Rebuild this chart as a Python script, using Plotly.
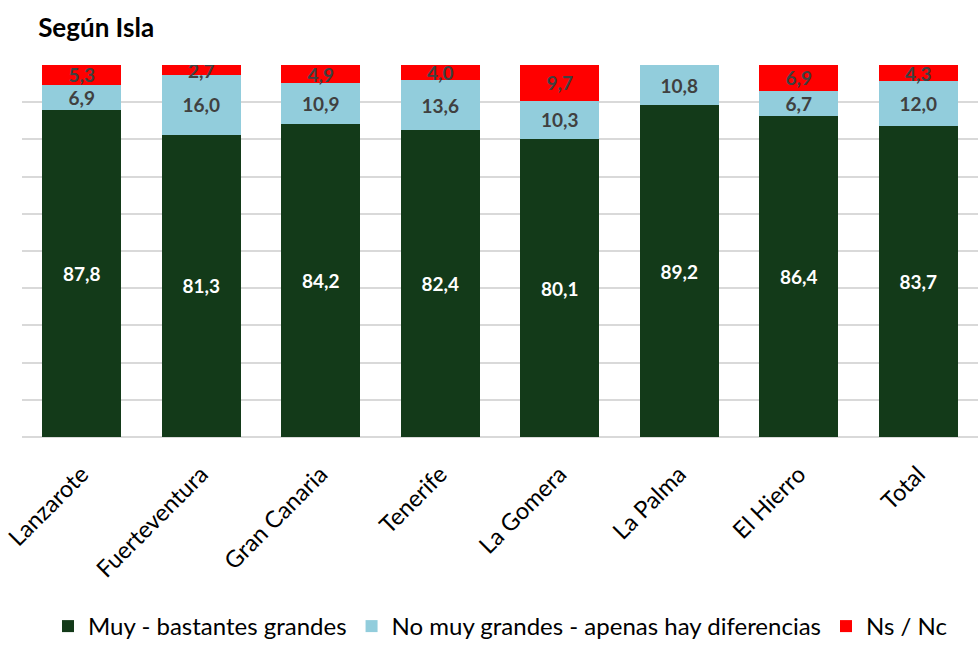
import plotly.graph_objects as go

categories = ["Lanzarote", "Fuerteventura", "Gran Canaria", "Tenerife", "La Gomera", "La Palma", "El Hierro", "Total"]
muy_bastantes = [87.8, 81.3, 84.2, 82.4, 80.1, 89.2, 86.4, 83.7]
no_muy = [6.9, 16.0, 10.9, 13.6, 10.3, 10.8, 6.7, 12.0]
ns_nc = [5.3, 2.7, 4.9, 4.0, 9.7, None, 6.9, 4.3]

series = [
    ("Muy - bastantes grandes", muy_bastantes, "#133A19", "white"),
    ("No muy grandes - apenas hay diferencias", no_muy, "#92CDDC", "#404040"),
    ("Ns / Nc", ns_nc, "#FF0000", "#404040"),
]

fig = go.Figure()
for name, vals, color, tcolor in series:
    fig.add_trace(go.Bar(
        x=categories, y=vals, name=name,
        marker=dict(color=color, line=dict(width=0)),
        texttemplate="<b>%{y:.1f}</b>", textposition="inside",
        insidetextanchor="middle", constraintext="none",
        textfont=dict(family="Lato", size=19, color=tcolor),
        textangle=0,
    ))

fig.update_layout(
    barmode="stack",
    bargap=0.34,
    separators=",.",
    width=978, height=649,
    margin=dict(l=22, r=0, t=65, b=203),
    paper_bgcolor="white", plot_bgcolor="white",
    font=dict(family="Lato", color="#000000"),
    title=dict(text="<b>Según Isla</b>", x=0.039, xanchor="left", y=0.957, yanchor="middle",
               font=dict(family="Lato", size=26, color="#000000")),
    uniformtext=dict(mode="show", minsize=19),
    showlegend=True,
    legend=dict(orientation="h", x=0.5, xanchor="center", y=-0.51, yanchor="middle",
                font=dict(family="Lato", size=24, color="#000000"), traceorder="normal",
                itemwidth=30),
    xaxis=dict(tickangle=-45, tickfont=dict(family="Lato", size=23.5, color="#000000"),
               showline=False, ticks="", automargin=False, ticklabelstandoff=18),
    yaxis=dict(range=[0, 100], dtick=10, showticklabels=False, gridcolor="#D9D9D9",
               gridwidth=2, zeroline=True, zerolinecolor="#D9D9D9", zerolinewidth=2,
               automargin=False),
)

fig.write_html("out.html", config={"displayModeBar": False},
               post_script="document.body.style.margin='0';document.body.style.overflow='hidden';")
